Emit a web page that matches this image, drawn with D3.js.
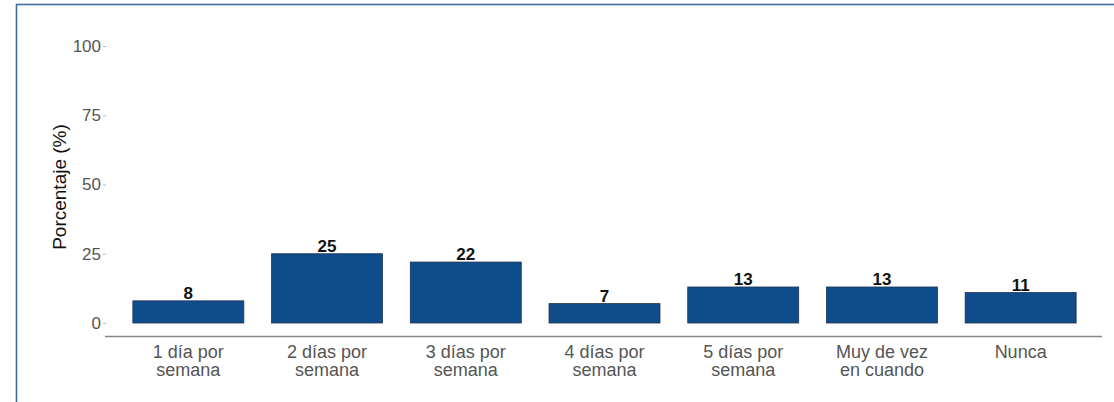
<!DOCTYPE html>
<html>
<head>
<meta charset="utf-8">
<script src="https://cdn.jsdelivr.net/npm/d3@7"></script>
<style>
  html, body { margin: 0; padding: 0; background: #fff; }
  svg { display: block; font-family: "Liberation Sans", Arial, sans-serif; }
</style>
</head>
<body>
<svg id="chart" width="1114" height="402"></svg>
<script>
// Frecuencia semanal (porcentaje de respuestas)
const categories = [
  ["1 día por", "semana"],
  ["2 días por", "semana"],
  ["3 días por", "semana"],
  ["4 días por", "semana"],
  ["5 días por", "semana"],
  ["Muy de vez", "en cuando"],
  ["Nunca"]
];
const values = [8, 25, 22, 7, 13, 13, 11];
const yTicks = [0, 25, 50, 75, 100];

const svg = d3.select("#chart");
const W = 1114, H = 402;

// Marco exterior
svg.append("rect")
  .attr("x", 16.5).attr("y", 4.5)
  .attr("width", W + 10).attr("height", H + 10)
  .attr("fill", "none")
  .attr("stroke", "#3f6fa2")
  .attr("stroke-width", 1.6);

const idx = categories.map((d, i) => i);
const x = d3.scaleBand()
  .domain(idx)
  .range([119, 1090])
  .paddingInner(0.2)
  .paddingOuter(0.1);

const y = d3.scaleLinear().domain([0, 100]).range([323, 46]);

// Eje Y
const yAxis = svg.append("g")
  .attr("transform", "translate(106,0)")
  .call(d3.axisLeft(y).tickValues(yTicks).tickSize(3).tickPadding(2));
yAxis.select(".domain").remove();
yAxis.selectAll(".tick line").attr("stroke", "#bbb");
yAxis.selectAll(".tick text")
  .attr("fill", "#555")
  .style("font-size", "17px")
  .style("font-family", "'Liberation Sans', Arial, sans-serif");

// Línea base del eje X
svg.append("line")
  .attr("x1", 105).attr("x2", 1102)
  .attr("y1", 336.5).attr("y2", 336.5)
  .attr("stroke", "#888").attr("stroke-width", 1.3);

// Barras
svg.append("g").selectAll("rect")
  .data(values)
  .join("rect")
  .attr("x", (d, i) => x(i))
  .attr("width", x.bandwidth())
  .attr("y", d => y(d))
  .attr("height", d => y(0) - y(d))
  .attr("fill", "#0f4c8b")
  .attr("stroke", "#1d3450")
  .attr("stroke-width", 0.8);

// Etiquetas de valor
svg.append("g").selectAll("text")
  .data(values)
  .join("text")
  .attr("x", (d, i) => x(i) + x.bandwidth() / 2)
  .attr("y", d => y(d) - 2)
  .attr("text-anchor", "middle")
  .attr("font-weight", "bold")
  .attr("font-size", "17px")
  .attr("fill", "#111")
  .text(d => d);

// Etiquetas de categoría
const cat = svg.append("g").selectAll("text")
  .data(categories)
  .join("text")
  .attr("x", (d, i) => x(i) + x.bandwidth() / 2)
  .attr("y", 358)
  .attr("text-anchor", "middle")
  .attr("font-size", "18px")
  .attr("fill", "#555");
cat.selectAll("tspan")
  .data(d => d)
  .join("tspan")
  .attr("x", function () { return d3.select(this.parentNode).attr("x"); })
  .attr("dy", (d, i) => i === 0 ? 0 : 18)
  .text(d => d);

// Título del eje Y
svg.append("text")
  .attr("transform", "translate(66,187) rotate(-90)")
  .attr("text-anchor", "middle")
  .attr("font-size", "19px")
  .attr("fill", "#111")
  .text("Porcentaje (%)");
</script>
</body>
</html>
